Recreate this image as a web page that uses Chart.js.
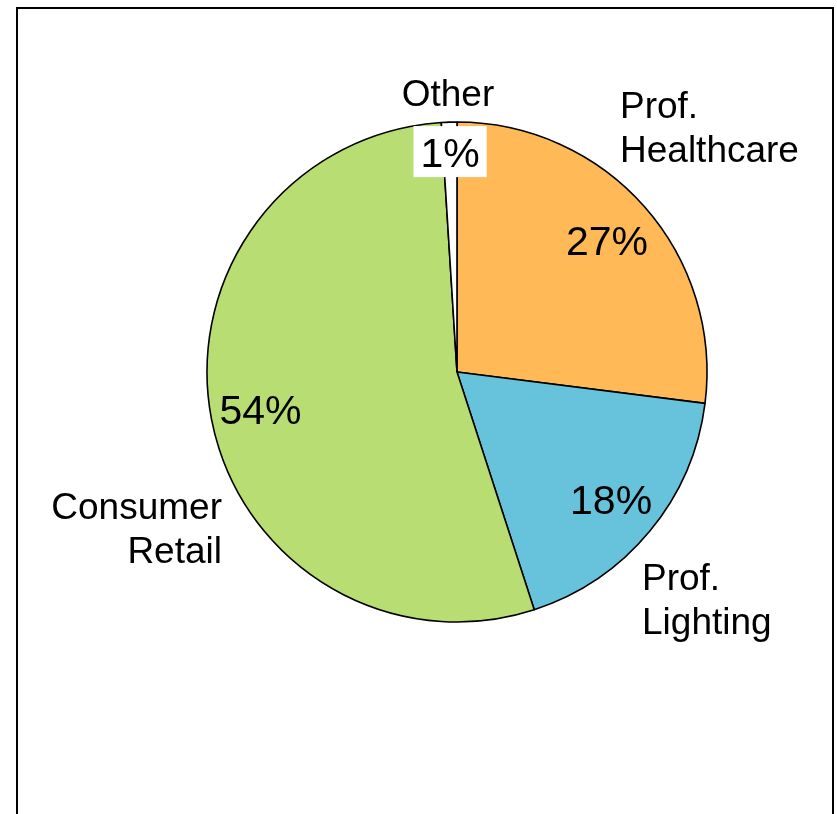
<!DOCTYPE html>
<html>
<head>
<meta charset="utf-8">
<script src="https://cdn.jsdelivr.net/npm/chart.js@4"></script>
<style>
    html, body { margin: 0; padding: 0; background: #fff; }
    #wrap { position: relative; width: 837px; height: 814px; }
    #frame {
        position: absolute; left: 16px; top: 7px; width: 818px; height: 820px;
        border: 2px solid #000; box-sizing: border-box;
    }
    #pieChart { position: absolute; left: 0; top: 0; }
</style>
</head>
<body>
<div id="wrap">
    <div id="frame"></div>
    <canvas id="pieChart" width="837" height="814"></canvas>
</div>
<script>
const categories = [['Prof.', 'Healthcare'], ['Prof.', 'Lighting'], ['Consumer', 'Retail'], ['Other']];
const shares = [27, 18, 54, 1];
const sliceColors = ['#FFB957', '#67C3DB', '#B8DD72', '#FFFFFF'];

// where each category name sits, relative to the pie centre (dx, first baseline dy, align)
const nameLayout = [
    { dx: 163, dy: -254, align: 'left' },
    { dx: 185, dy: 218, align: 'left' },
    { dx: -235, dy: 147, align: 'right' },
    { dx: -9, dy: -266, align: 'center' },
];
// radial position of the percentage, as a fraction of the radius
const pctRadius = [0.8, 0.8, 0.8, 0.88];

const labelFont = '37px "Liberation Sans", Arial, sans-serif';
const pctFont = '41px "Liberation Sans", Arial, sans-serif';

const pieLabels = {
    id: 'pieLabels',
    afterDatasetsDraw(chart) {
        const ctx = chart.ctx;
        const arcs = chart.getDatasetMeta(0).data;
        ctx.save();
        ctx.fillStyle = '#000';
        ctx.textBaseline = 'alphabetic';

        arcs.forEach((arc, i) => {
            const { x, y, startAngle, endAngle, outerRadius } = arc.getProps(['x', 'y', 'startAngle', 'endAngle', 'outerRadius'], true);
            const mid = (startAngle + endAngle) / 2;
            const r = outerRadius * pctRadius[i];
            const px = x + Math.cos(mid) * r;
            const py = y + Math.sin(mid) * r;
            const text = shares[i] + '%';

            ctx.font = pctFont;
            ctx.textAlign = 'center';
            if (i === 3) {
                const w = ctx.measureText(text).width;
                ctx.fillStyle = '#fff';
                ctx.fillRect(px - w / 2 - 7, py - 26, w + 14, 51);
                ctx.fillStyle = '#000';
            }
            ctx.fillText(text, px, py + 15);

            const lay = nameLayout[i];
            ctx.font = labelFont;
            ctx.textAlign = lay.align;
            categories[i].forEach((line, k) => {
                ctx.fillText(line, x + lay.dx, y + lay.dy + k * 44);
            });
        });
        ctx.restore();
    }
};

new Chart(document.getElementById('pieChart'), {
    type: 'pie',
    data: {
        labels: categories.map(c => c.join(' ')),
        datasets: [{
            data: shares,
            backgroundColor: sliceColors,
            borderColor: '#000',
            borderWidth: 1.6,
        }],
    },
    options: {
        responsive: false,
        animation: false,
        radius: 250,
        layout: { padding: { left: 77, right: 0, top: 0, bottom: 70 } },
        plugins: {
            legend: { display: false },
            tooltip: { enabled: false },
        },
    },
    plugins: [pieLabels],
});
</script>
</body>
</html>
